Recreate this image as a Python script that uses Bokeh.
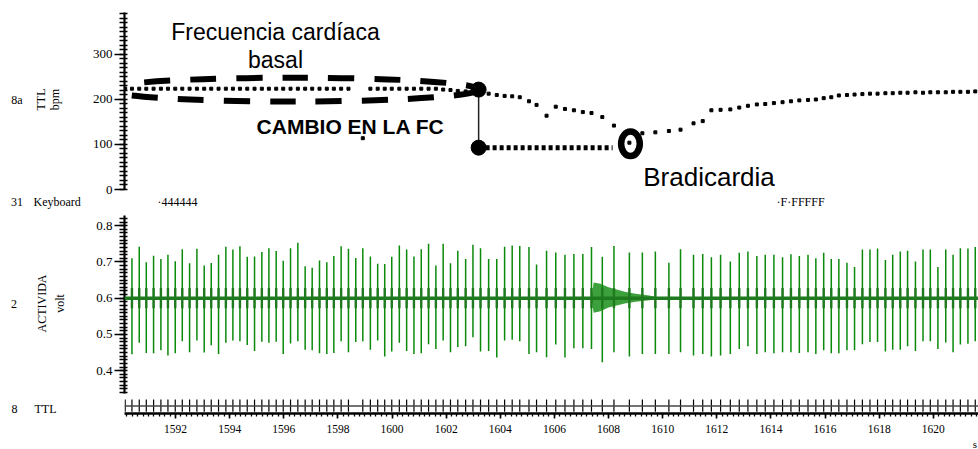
from math import pi

from bokeh.core.properties import value
from bokeh.embed import file_html
from bokeh.layouts import column, row
from bokeh.models import (ColumnDataSource, LinearAxis, PrintfTickFormatter,
                          Range1d, SingleIntervalTicker, Span)
from bokeh.plotting import figure
from bokeh.resources import INLINE

# ---------------------------------------------------------------- data
# beat detections on the TTL channel (s)
ttl_t = [1590.14, 1590.39, 1590.66, 1590.92, 1591.19, 1591.46, 1591.72, 1591.99, 1592.25, 1592.52,
         1592.79, 1593.06, 1593.32, 1593.59, 1593.86, 1594.12, 1594.38, 1594.65, 1594.92, 1595.19,
         1595.45, 1595.72, 1595.98, 1596.25, 1596.52, 1596.79, 1597.05, 1597.32, 1597.59, 1597.85,
         1598.12, 1598.39, 1598.92, 1599.20, 1599.47, 1599.73, 1599.99, 1600.27, 1600.54, 1600.81,
         1601.08, 1601.35, 1601.62, 1601.89, 1602.16, 1602.43, 1602.72, 1602.99, 1603.27, 1603.57,
         1603.87, 1604.16, 1604.44, 1604.72, 1605.06, 1605.34, 1605.71, 1606.05, 1606.39, 1606.72,
         1607.05, 1607.37, 1607.77, 1608.20, 1608.77, 1609.25, 1609.73, 1610.23, 1610.66, 1611.14,
         1611.48, 1611.80, 1612.14, 1612.50, 1612.83, 1613.15, 1613.48, 1613.79, 1614.11, 1614.43,
         1614.74, 1615.05, 1615.37, 1615.66, 1615.95, 1616.23, 1616.51, 1616.81, 1617.09, 1617.38,
         1617.66, 1617.94, 1618.23, 1618.50, 1618.78, 1619.05, 1619.34, 1619.62, 1619.89, 1620.17,
         1620.46, 1620.73, 1621.00, 1621.28, 1621.55]

# instantaneous heart rate shown at each TTL beat (bpm)
hr_bpm = [224] * 32 + [114] + [224] * 10 + [
    222, 221, 219, 218, 217, 218,
    213, 210, 208, 207, 205, 196, 188, 164, 184, 179, 176, 172, 170, 161, 142, 104,
    125, 127, 130, 133,
    147, 152, 176, 177, 178, 182, 186, 189, 190, 192, 194, 196, 198, 199, 200, 203,
    205, 209, 210, 211, 212, 213, 213, 214, 214, 215, 215, 216, 215, 216, 216, 216,
    217, 217, 217, 218]

# QRS spikes on the ACTIVIDAD channel: time (s), peak and trough (V)
spike_t = [1590.39, 1590.66, 1590.92, 1591.19, 1591.46, 1591.72, 1591.99, 1592.25, 1592.52, 1592.79,
           1593.06, 1593.32, 1593.59, 1593.86, 1594.12, 1594.38, 1594.65, 1594.92, 1595.19, 1595.45,
           1595.72, 1595.98, 1596.25, 1596.52, 1596.79, 1597.05, 1597.32, 1597.59, 1597.85, 1598.12,
           1598.39, 1598.66, 1598.92, 1599.20, 1599.47, 1599.73, 1599.99, 1600.27, 1600.54, 1600.81,
           1601.08, 1601.35, 1601.62, 1601.89, 1602.16, 1602.43, 1602.72, 1602.99, 1603.27, 1603.57,
           1603.87, 1604.16, 1604.44, 1604.72, 1605.06, 1605.34, 1605.71, 1606.05, 1606.39, 1606.72,
           1607.05, 1607.37, 1607.77, 1608.20, 1608.77, 1609.25, 1609.73, 1610.23, 1610.66, 1611.14,
           1611.48, 1611.80, 1612.14, 1612.50, 1612.83, 1613.15, 1613.48, 1613.79, 1614.11, 1614.43,
           1614.74, 1615.05, 1615.37, 1615.66, 1615.95, 1616.23, 1616.51, 1616.81, 1617.09, 1617.38,
           1617.66, 1617.94, 1618.23, 1618.50, 1618.78, 1619.05, 1619.34, 1619.62, 1619.89, 1620.17,
           1620.46, 1620.73, 1621.00, 1621.28, 1621.55]
spike_hi = [0.710, 0.742, 0.699, 0.717, 0.708, 0.720, 0.702, 0.735, 0.696, 0.736,
            0.690, 0.697, 0.720, 0.742, 0.734, 0.743, 0.714, 0.715, 0.727, 0.738,
            0.730, 0.703, 0.738, 0.753, 0.688, 0.684, 0.704, 0.699, 0.716, 0.743,
            0.736, 0.711, 0.738, 0.715, 0.695, 0.694, 0.714, 0.745, 0.734,
            0.715, 0.735, 0.750, 0.690, 0.750, 0.696, 0.731, 0.708, 0.747, 0.738,
            0.708, 0.708, 0.742, 0.745, 0.744, 0.741, 0.693, 0.731, 0.726, 0.720,
            0.722, 0.722, 0.741, 0.714, 0.744, 0.726, 0.726, 0.729, 0.698, 0.735,
            0.720, 0.722, 0.713, 0.720, 0.701, 0.725, 0.729, 0.716, 0.720, 0.720,
            0.713, 0.721, 0.716, 0.720, 0.710, 0.725, 0.708, 0.708, 0.698, 0.686,
            0.734, 0.734, 0.737, 0.705, 0.720, 0.729, 0.731, 0.701, 0.734, 0.734,
            0.686, 0.734, 0.720, 0.738, 0.737, 0.741]
spike_lo = [0.445, 0.477, 0.449, 0.448, 0.456, 0.442, 0.448, 0.481, 0.451, 0.483,
            0.450, 0.470, 0.446, 0.477, 0.483, 0.481, 0.471, 0.454, 0.480, 0.477,
            0.480, 0.446, 0.475, 0.481, 0.458, 0.456, 0.448, 0.446, 0.449, 0.481,
            0.451, 0.479, 0.481, 0.458, 0.483, 0.439, 0.453, 0.477, 0.454,
            0.446, 0.448, 0.473, 0.460, 0.483, 0.451, 0.465, 0.467, 0.492, 0.453,
            0.454, 0.436, 0.483, 0.485, 0.481, 0.446, 0.451, 0.437, 0.472, 0.436,
            0.462, 0.462, 0.460, 0.423, 0.451, 0.439, 0.446, 0.446, 0.446, 0.451,
            0.442, 0.446, 0.439, 0.442, 0.446, 0.460, 0.467, 0.446, 0.451, 0.448,
            0.451, 0.451, 0.449, 0.451, 0.446, 0.456, 0.448, 0.448, 0.456, 0.456,
            0.473, 0.479, 0.479, 0.453, 0.458, 0.458, 0.467, 0.454, 0.481, 0.481,
            0.460, 0.478, 0.451, 0.472, 0.474, 0.481]
baseline_v = 0.6
qrs_core = (0.572, 0.628)

# movement artefact envelope around the bradycardia
burst_t = [1607.37, 1607.45, 1607.70, 1608.00, 1608.30, 1608.60, 1609.00, 1609.50, 1610.00]
burst_hi = [0.600, 0.643, 0.640, 0.630, 0.624, 0.618, 0.612, 0.607, 0.600]
burst_lo = [0.600, 0.560, 0.564, 0.574, 0.580, 0.585, 0.590, 0.594, 0.600]

# keyboard markers
kb_t = [1591.33, 1614.21]
kb_text = ["\u00b7444444", "\u00b7F\u00b7FFFFF"]

# annotation of the heart-rate change
basal_hr = 222          # bpm at the start of the response
brady_hr = 93           # bpm level reached
change_t = 1603.20      # s
brady_t = 1608.15       # s
brady_mark = (1608.81, 101.5)
basal_ellipse = dict(x=1596.32, y=222, width=13.75, height=53)

# channel titles in the left margin: (text, x, y from bottom, align, rotated)
channel_titles = [
    ("8a", 16.5, 350, "center", False), ("TTL", 40, 350, "center", True),
    ("bpm", 54.5, 350, "center", True),
    ("31", 16.5, 248, "center", False), ("Keyboard", 33, 248, "left", False),
    ("2", 13.5, 146, "center", False), ("ACTIVIDA", 41, 146, "center", True),
    ("volt", 59, 146, "center", True),
    ("8", 14, 41, "center", False), ("TTL", 34, 41, "left", False),
]

# ---------------------------------------------------------------- layout
W, H = 978, 449
MARGIN = 84            # width of the channel-title strip
AXIS_W = 40            # room for the y axes
LEFT = MARGIN + AXIS_W
X0, X1 = 1590.115, 1621.67
PPS = (W - LEFT) / (X1 - X0)
xr = Range1d(X0, X1)

SERIF = "Liberation Serif"
SANS = "Liberation Sans"
GREEN = "#0b8a0b"
DARK_GREEN = "#1f7a1f"


def tx(px):
    """time under a canvas column"""
    return X0 + (px - LEFT) / PPS


def panel(height, yr, top, bottom):
    p = figure(width=W - MARGIN, height=height, x_range=xr, y_range=yr,
               output_backend="svg", toolbar_location=None,
               x_axis_location=None, y_axis_location=None,
               min_border_left=AXIS_W, min_border_right=0,
               min_border_top=top, min_border_bottom=bottom)
    p.grid.visible = False
    p.outline_line_color = None
    p.background_fill_color = "white"
    p.border_fill_color = "white"
    return p


def y_axis(interval, fmt=None):
    ax = LinearAxis(ticker=SingleIntervalTicker(interval=interval, num_minor_ticks=10),
                    axis_line_width=2.2, axis_line_color="black",
                    major_tick_out=10, major_tick_in=0, major_tick_line_width=1.6,
                    minor_tick_out=5, minor_tick_in=3, minor_tick_line_width=1.3,
                    major_label_standoff=2, major_label_text_font=SERIF,
                    major_label_text_font_size="13px", major_label_text_color="black")
    if fmt:
        ax.formatter = PrintfTickFormatter(format=fmt)
    return ax


# ---- channel titles
m = figure(width=MARGIN, height=H, x_range=Range1d(0, MARGIN), y_range=Range1d(0, H),
           output_backend="svg", toolbar_location=None,
           x_axis_location=None, y_axis_location=None,
           min_border_left=0, min_border_right=0, min_border_top=0, min_border_bottom=0)
m.grid.visible = False
m.outline_line_color = None
for text, x, y, align, rotated in channel_titles:
    m.text(x=[x], y=[y], text=[text], angle=pi / 2 if rotated else 0,
           text_font=value(SERIF), text_font_size="12px", text_align=align,
           text_baseline="middle", text_color="black")

# ---- heart rate channel
p1 = panel(196, Range1d(0, 393.3), 12, 7)
p1.add_layout(y_axis(100), "left")

p1.ellipse(x=[basal_ellipse["x"]], y=[basal_ellipse["y"]], width=[basal_ellipse["width"]],
           height=[basal_ellipse["height"]], fill_alpha=0, line_color="black",
           line_width=6, line_dash="26 20")
p1.scatter(ttl_t, hr_bpm, marker="square", size=3, color="black")
p1.segment(x0=[change_t], y0=[basal_hr], x1=[change_t], y1=[brady_hr],
           line_color="#222222", line_width=1.5)
p1.line([change_t, brady_t], [brady_hr, brady_hr], line_color="black",
        line_width=5, line_dash="4 3")
p1.scatter([change_t, change_t], [basal_hr, brady_hr], marker="circle", size=15,
           color="black")
p1.ellipse(x=[brady_mark[0]], y=[brady_mark[1]], width=[0.69], height=[54.5],
           fill_alpha=0, line_color="black", line_width=6.5)

p1.text(x=[tx(275)], y=[349], text=["Frecuencia card\u00edaca"], text_font=value(SANS),
        text_font_size="23px", text_align="center", text_baseline="middle", text_color="black")
p1.text(x=[tx(275)], y=[287], text=["basal"], text_font=value(SANS),
        text_font_size="23px", text_align="center", text_baseline="middle", text_color="black")
p1.text(x=[tx(350)], y=[141], text=["CAMBIO EN LA FC"], text_font=value(SANS),
        text_font_size="21px", text_font_style="bold", text_align="center",
        text_baseline="middle", text_color="black")
p1.text(x=[tx(708.5)], y=[28], text=["Bradicardia"], text_font=value(SANS),
        text_font_size="26px", text_align="center", text_baseline="middle", text_color="black")

# ---- keyboard channel
p2 = panel(18, Range1d(0, 1), 0, 0)
p2.text(x=kb_t, y=[0.72] * len(kb_t), text=kb_text, text_font=value(SERIF),
        text_font_size="12px", text_align="left", text_baseline="middle", text_color="black")

# ---- activity channel
p3 = panel(184, Range1d(0.337, 0.828), 1, 5)
p3.add_layout(y_axis(0.1, "%.1f"), "left")
p3.add_layout(Span(location=baseline_v, dimension="width", line_color=DARK_GREEN,
                   line_width=3.5))
p3.varea(x=burst_t, y1=burst_lo, y2=burst_hi, fill_color=GREEN, fill_alpha=0.8)
src = ColumnDataSource(dict(t=spike_t, hi=spike_hi, lo=spike_lo))
p3.segment(x0="t", y0="lo", x1="t", y1="hi", source=src, line_color=GREEN,
           line_width=1.5)
p3.segment(x0="t", y0=qrs_core[0], x1="t", y1=qrs_core[1], source=src,
           line_color=DARK_GREEN, line_width=2.4)

# ---- TTL channel with the time axis
p4 = panel(37, Range1d(0, 1), 0, 21)
p4.add_layout(Span(location=0.5, dimension="width", line_color="#444444", line_width=1.6))
p4.segment(x0=ttl_t, y0=[0.12] * len(ttl_t), x1=ttl_t, y1=[0.94] * len(ttl_t),
           line_color="black", line_width=1.2)
xa = LinearAxis(ticker=SingleIntervalTicker(interval=2, num_minor_ticks=10),
                axis_line_width=2.5, axis_line_color="black",
                major_tick_out=5, major_tick_in=0, major_tick_line_width=1.6,
                minor_tick_out=3, minor_tick_in=0, minor_tick_line_width=1.3,
                major_label_standoff=6, major_label_text_font=SERIF,
                major_label_text_font_size="11.5px", major_label_text_color="black")
p4.add_layout(xa, "below")

# ---- time unit under the axis end
p5 = panel(14, Range1d(0, 1), 0, 0)
p5.text(x=[tx(974.5)], y=[0.0], text=["s"], text_font=value(SERIF), text_font_size="11px",
        text_align="center", text_baseline="bottom", text_color="black")

page = row(m, column(p1, p2, p3, p4, p5, spacing=0), spacing=0)
open("out.html", "w").write(file_html(page, INLINE))
